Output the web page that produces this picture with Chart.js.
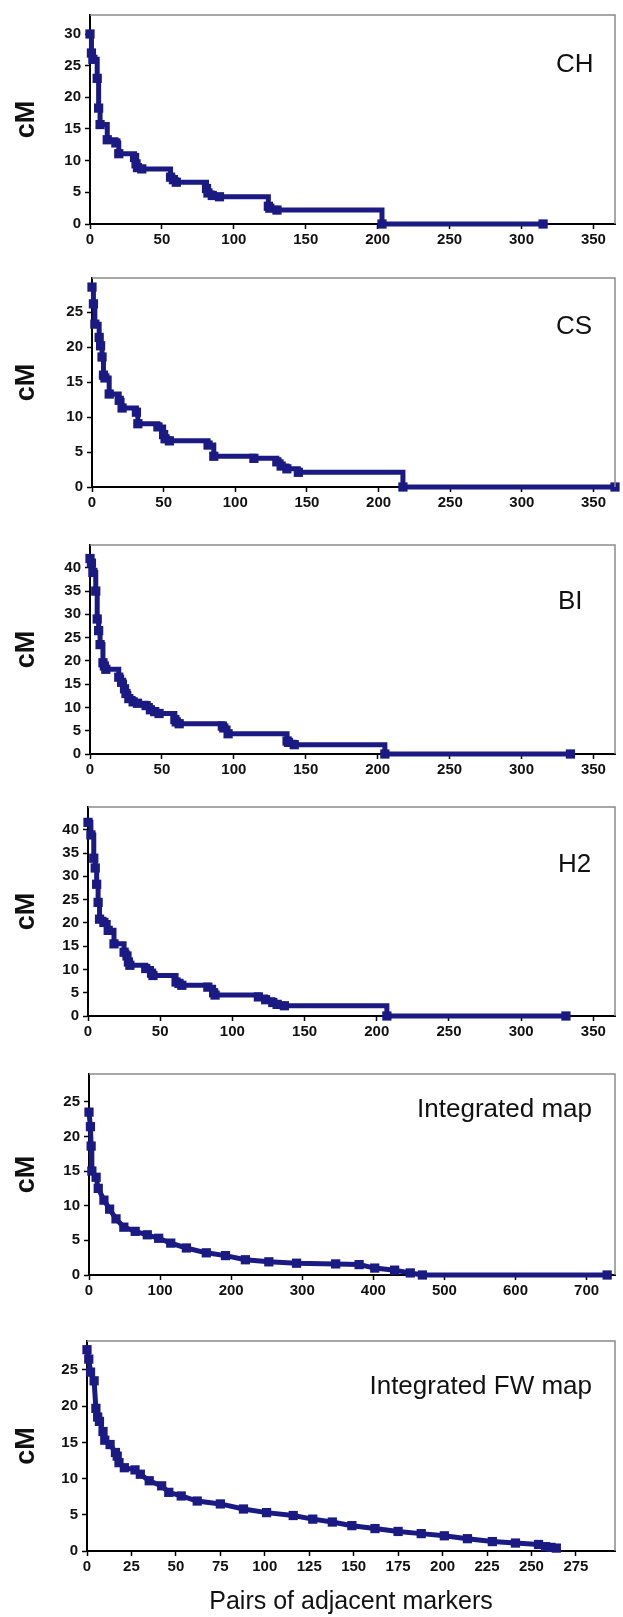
<!DOCTYPE html>
<html>
<head>
<meta charset="utf-8">
<script src="https://cdn.jsdelivr.net/npm/chart.js@4.4.1/dist/chart.umd.min.js"></script>
<style>
  html, body { margin: 0; padding: 0; background: #fff; }
  body { position: relative; width: 623px; height: 1617px; overflow: hidden; }
  canvas { position: absolute; left: 0; }
</style>
</head>
<body>
<canvas id="ch" width="623" height="248" style="top:2px"></canvas>
<canvas id="cs" width="623" height="248" style="top:265px"></canvas>
<canvas id="bi" width="623" height="248" style="top:532px"></canvas>
<canvas id="h2" width="623" height="248" style="top:794px"></canvas>
<canvas id="im" width="623" height="240" style="top:1061px"></canvas>
<canvas id="fw" width="623" height="289" style="top:1328px"></canvas>
<script>
// interval sizes (cM) between adjacent markers, sorted; x = pair index where each level starts
var chX = [0, 1, 2, 5, 6, 7, 12, 18, 20, 31, 32, 33, 36, 56, 58, 60, 81, 82, 85, 90, 124, 125, 130, 203, 315];
var chY = [30, 27, 26, 23, 18.3, 15.7, 13.3, 12.8, 11.1, 10.5, 9.5, 8.9, 8.7, 7.4, 7.0, 6.6, 5.6, 4.9, 4.5, 4.3, 2.8, 2.5, 2.2, 0, 0];

var csX = [0, 1, 2, 5, 6, 7, 8, 9, 12, 19, 21, 31, 32, 46, 50, 51, 54, 81, 85, 113, 129, 132, 136, 144, 217, 365];
var csY = [28.6, 26.2, 23.3, 21.4, 20.2, 18.6, 16, 15.6, 13.3, 12.4, 11.3, 10.7, 9.05, 8.6, 7.5, 6.9, 6.6, 6.0, 4.4, 4.1, 3.6, 3.0, 2.6, 2.1, 0, 0];

var biX = [0, 1, 2, 4, 5, 6, 7, 9, 10, 11, 20, 22, 24, 25, 27, 30, 33, 39, 42, 45, 48, 59, 60, 62, 92, 93, 96, 137, 138, 142, 205, 334];
var biY = [42, 41, 39, 35, 29, 26.5, 23.5, 19.6, 18.9, 18.2, 16.5, 15.4, 14, 13, 11.9, 11.2, 10.9, 10.4, 9.5, 9.1, 8.7, 7.4, 6.9, 6.5, 6.0, 5.6, 4.35, 2.8, 2.5, 2.0, 0, 0];

var h2X = [0, 2, 4, 5, 6, 7, 8, 11, 14, 18, 25, 27, 28, 29, 40, 44, 45, 61, 63, 65, 83, 87, 88, 118, 123, 128, 131, 136, 207, 331];
var h2Y = [41.6, 38.9, 33.9, 31.8, 28.3, 24.4, 20.8, 20.1, 18.4, 15.5, 13.7, 12.9, 11.6, 10.9, 10.2, 9.2, 8.7, 7.3, 7.0, 6.6, 6.2, 5.0, 4.5, 4.1, 3.5, 2.9, 2.5, 2.2, 0, 0];

var imX = [0, 2, 3, 4, 10, 13, 21, 29, 38, 49, 65, 82, 98, 115, 137, 165, 192, 220, 253, 292, 347, 380, 402, 430, 452, 469, 729];
var imY = [23.5, 21.4, 18.6, 15.0, 14.1, 12.5, 10.8, 9.5, 8.1, 6.9, 6.3, 5.8, 5.3, 4.6, 3.9, 3.2, 2.8, 2.2, 1.9, 1.7, 1.6, 1.5, 1.0, 0.7, 0.3, 0, 0];

var fwX = [0, 1, 2, 4, 5, 6, 7, 9, 10, 13, 16, 17, 18, 21, 27, 30, 35, 42, 46, 53, 62, 75, 88, 101, 116, 127, 138, 149, 162, 175, 188, 201, 214, 228, 241, 254, 258, 261, 264];
var fwY = [27.8, 26.5, 24.7, 23.5, 19.7, 18.5, 17.9, 16.5, 15.3, 14.7, 13.6, 13.1, 12.2, 11.5, 11.2, 10.6, 9.7, 9.0, 8.1, 7.6, 6.9, 6.5, 5.8, 5.3, 4.9, 4.4, 4.0, 3.5, 3.1, 2.7, 2.4, 2.1, 1.7, 1.3, 1.1, 0.9, 0.6, 0.5, 0.4];

var panelNames = ['CH', 'CS', 'BI', 'H2', 'Integrated map', 'Integrated FW map'];
var yTitle = 'cM';
var xTitle = 'Pairs of adjacent markers';

var navy = '#1a1a82';
var tickFont = { family: '"Liberation Sans Narrow", "Liberation Sans", Arial, sans-serif', size: 15, weight: 'bold' };

// grey frame on top and right of the plot area
var framePlugin = {
    id: 'frame',
    afterDraw: function (chart) {
        var ctx = chart.ctx, a = chart.chartArea;
        ctx.save();
        ctx.strokeStyle = '#8a8a8a';
        ctx.lineWidth = 1.5;
        ctx.beginPath();
        ctx.moveTo(a.left, a.top);
        ctx.lineTo(a.right, a.top);
        ctx.lineTo(a.right, a.bottom);
        ctx.stroke();
        ctx.restore();
    }
};

var labelPlugin = {
    id: 'panelLabel',
    afterDraw: function (chart, args, opts) {
        var ctx = chart.ctx;
        ctx.save();
        ctx.font = '26px "Liberation Sans", Arial, sans-serif';
        ctx.fillStyle = '#111';
        ctx.textAlign = opts.align;
        ctx.textBaseline = 'middle';
        ctx.fillText(opts.text, opts.x, opts.y);
        ctx.restore();
    }
};

function makePanel(id, xs, ys, p) {
    var pts = xs.map(function (x, i) { return { x: x, y: ys[i] }; });
    return new Chart(document.getElementById(id), {
        type: 'line',
        data: {
            datasets: [{
                data: pts,
                borderColor: navy,
                backgroundColor: navy,
                borderWidth: 5,
                stepped: p.stepped,
                fill: false,
                tension: 0,
                clip: 6,
                pointStyle: 'rect',
                pointRadius: 3,
                pointHoverRadius: 3
            }]
        },
        options: {
            responsive: false,
            animation: false,
            events: [],
            layout: { padding: { top: 10, right: 3, left: 0, bottom: 0 } },
            plugins: {
                legend: { display: false },
                tooltip: { enabled: false },
                panelLabel: { text: p.name, x: p.lx, y: p.ly, align: p.la }
            },
            scales: {
                x: {
                    type: 'linear',
                    min: 0,
                    max: p.xMax,
                    afterFit: function (s) { s.height = p.xh; },
                    ticks: { stepSize: p.xStep, includeBounds: false, autoSkip: false, maxRotation: 0, color: '#111', font: tickFont, padding: 2 },
                    grid: { drawOnChartArea: false, tickLength: 5, tickColor: '#000', tickWidth: 1.5 },
                    border: { color: '#000', width: 2 },
                    title: {
                        display: !!p.xTitle,
                        text: xTitle,
                        color: '#111',
                        font: { family: '"Liberation Sans", Arial, sans-serif', size: 25 },
                        padding: { top: 0, bottom: 0 }
                    }
                },
                y: {
                    min: 0,
                    max: p.yMax,
                    afterFit: function (s) { s.width = p.yw; },
                    ticks: { stepSize: 5, includeBounds: false, color: '#111', font: tickFont, padding: 4 },
                    grid: { drawOnChartArea: false, tickLength: 5, tickColor: '#000', tickWidth: 1.5 },
                    border: { color: '#000', width: 2 },
                    title: {
                        display: true,
                        text: yTitle,
                        color: '#111',
                        font: { family: '"Liberation Sans", Arial, sans-serif', size: 27, weight: 'bold' },
                        padding: { top: 10, bottom: 0 }
                    }
                }
            }
        },
        plugins: [framePlugin, labelPlugin]
    });
}

makePanel('ch', chX, chY, { name: panelNames[0], stepped: true, xMax: 365, xStep: 50, yMax: 33, yw: 90, xh: 26, lx: 556, ly: 63, la: 'left' });
makePanel('cs', csX, csY, { name: panelNames[1], stepped: true, xMax: 365, xStep: 50, yMax: 29.9, yw: 92, xh: 26, lx: 556, ly: 62, la: 'left' });
makePanel('bi', biX, biY, { name: panelNames[2], stepped: true, xMax: 365, xStep: 50, yMax: 44.9, yw: 90, xh: 26, lx: 558, ly: 70, la: 'left' });
makePanel('h2', h2X, h2Y, { name: panelNames[3], stepped: true, xMax: 365, xStep: 50, yMax: 44.9, yw: 88, xh: 26, lx: 558, ly: 71, la: 'left' });
makePanel('im', imX, imY, { name: panelNames[4], stepped: false, xMax: 740, xStep: 100, yMax: 29, yw: 89, xh: 26, lx: 592, ly: 49, la: 'right' });
makePanel('fw', fwX, fwY, { name: panelNames[5], stepped: false, xMax: 297, xStep: 25, yMax: 29, yw: 87, xh: 66, lx: 592, ly: 59, la: 'right', xTitle: true });
</script>
</body>
</html>
